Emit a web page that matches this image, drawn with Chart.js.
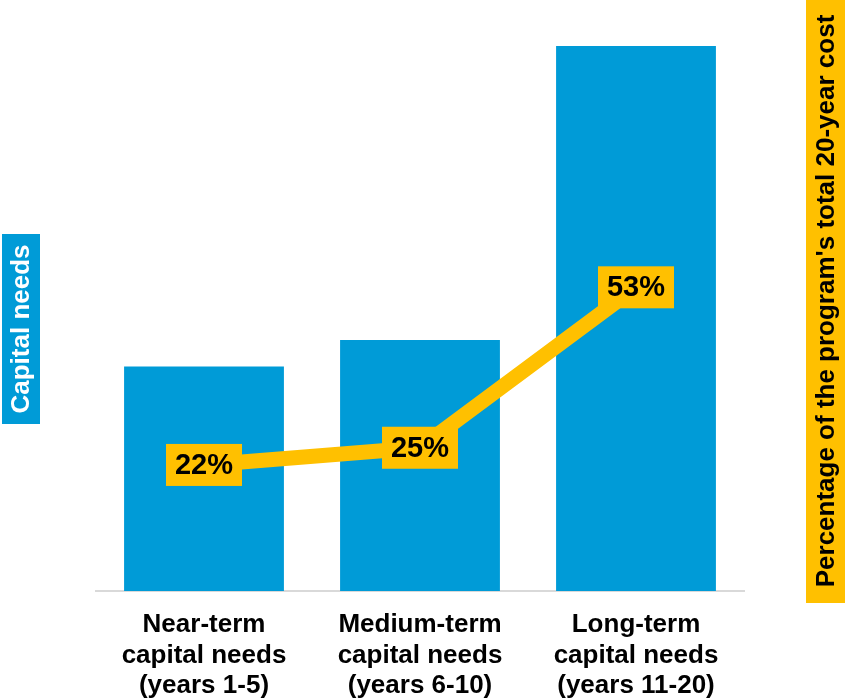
<!DOCTYPE html>
<html>
<head>
<meta charset="utf-8">
<script src="https://cdn.jsdelivr.net/npm/chart.js@4/dist/chart.umd.min.js"></script>
<style>
  html, body { margin: 0; padding: 0; background: #fff; }
  #wrap { position: relative; width: 845px; height: 698px; }
</style>
</head>
<body>
<div id="wrap"><canvas id="chart" width="845" height="698"></canvas></div>
<script>
// ==== DATA ====
const categories = [
    ["Near-term", "capital needs", "(years 1-5)"],
    ["Medium-term", "capital needs", "(years 6-10)"],
    ["Long-term", "capital needs", "(years 11-20)"],
];
// capital needs (bar heights, relative units)
const capitalNeeds = [39.2, 43.8, 95.1];
// share of the program's total 20-year cost (%)
const costShare = [22, 25, 53];
const costLabels = ["22%", "25%", "53%"];

const leftTitle = "Capital needs";
const rightTitle = "Percentage of the program's total 20-year cost";

const BLUE = "#009bd7";
const GOLD = "#ffc000";
const FONT = "'Liberation Sans', Arial, sans-serif";

// ==== PLUGIN: boxes for the line labels and axis titles ====
const boxesPlugin = {
    id: "boxes",
    afterDatasetsDraw(chart) {
        const ctx = chart.ctx;
        const meta = chart.getDatasetMeta(1);
        ctx.save();
        ctx.font = "bold 29px " + FONT;
        ctx.textAlign = "center";
        ctx.textBaseline = "middle";
        meta.data.forEach((pt, i) => {
            const w = 76, h = 42;
            ctx.fillStyle = GOLD;
            ctx.fillRect(pt.x - w / 2, pt.y - h / 2, w, h);
            ctx.fillStyle = "#000";
            ctx.fillText(costLabels[i], pt.x, pt.y + 1);
        });
        ctx.restore();
    },
    afterDraw(chart) {
        const ctx = chart.ctx;
        ctx.save();
        ctx.font = "bold 26px " + FONT;
        ctx.textAlign = "center";
        ctx.textBaseline = "middle";

        // left title (blue box, white text)
        ctx.fillStyle = BLUE;
        ctx.fillRect(2, 234, 38, 190);
        ctx.save();
        ctx.translate(21, 329);
        ctx.rotate(-Math.PI / 2);
        ctx.fillStyle = "#fff";
        ctx.fillText(leftTitle, 0, 1);
        ctx.restore();

        // right title (gold box, black text)
        ctx.fillStyle = GOLD;
        ctx.fillRect(806, 0, 39, 603);
        ctx.save();
        ctx.translate(826, 301);
        ctx.rotate(-Math.PI / 2);
        ctx.fillStyle = "#000";
        ctx.fillText(rightTitle, 0, 1);
        ctx.restore();

        ctx.restore();
    },
};

new Chart(document.getElementById("chart"), {
    data: {
        labels: categories,
        datasets: [
            {
                type: "bar",
                data: capitalNeeds,
                backgroundColor: BLUE,
                barPercentage: 0.74,
                categoryPercentage: 1,
                yAxisID: "y",
                order: 2,
            },
            {
                type: "line",
                data: costShare,
                borderColor: GOLD,
                borderWidth: 15,
                pointRadius: 0,
                tension: 0,
                yAxisID: "y1",
                order: 1,
            },
        ],
    },
    options: {
        responsive: false,
        animation: false,
        layout: { padding: { left: 96, right: 101, top: 18, bottom: 0 } },
        plugins: {
            legend: { display: false },
            tooltip: { enabled: false },
        },
        scales: {
            x: {
                grid: { display: false, drawTicks: false },
                border: { display: true, color: "#d9d9d9", width: 2 },
                ticks: {
                    color: "#000",
                    padding: 19,
                    maxRotation: 0,
                    font: { family: FONT, size: 26, weight: "bold", lineHeight: 1.17 },
                },
                afterFit(scale) { scale.height = 107; },
            },
            y: { display: false, min: 0, max: 100 },
            y1: { display: false, min: 0, max: 100 },
        },
    },
    plugins: [boxesPlugin],
});
</script>
</body>
</html>
